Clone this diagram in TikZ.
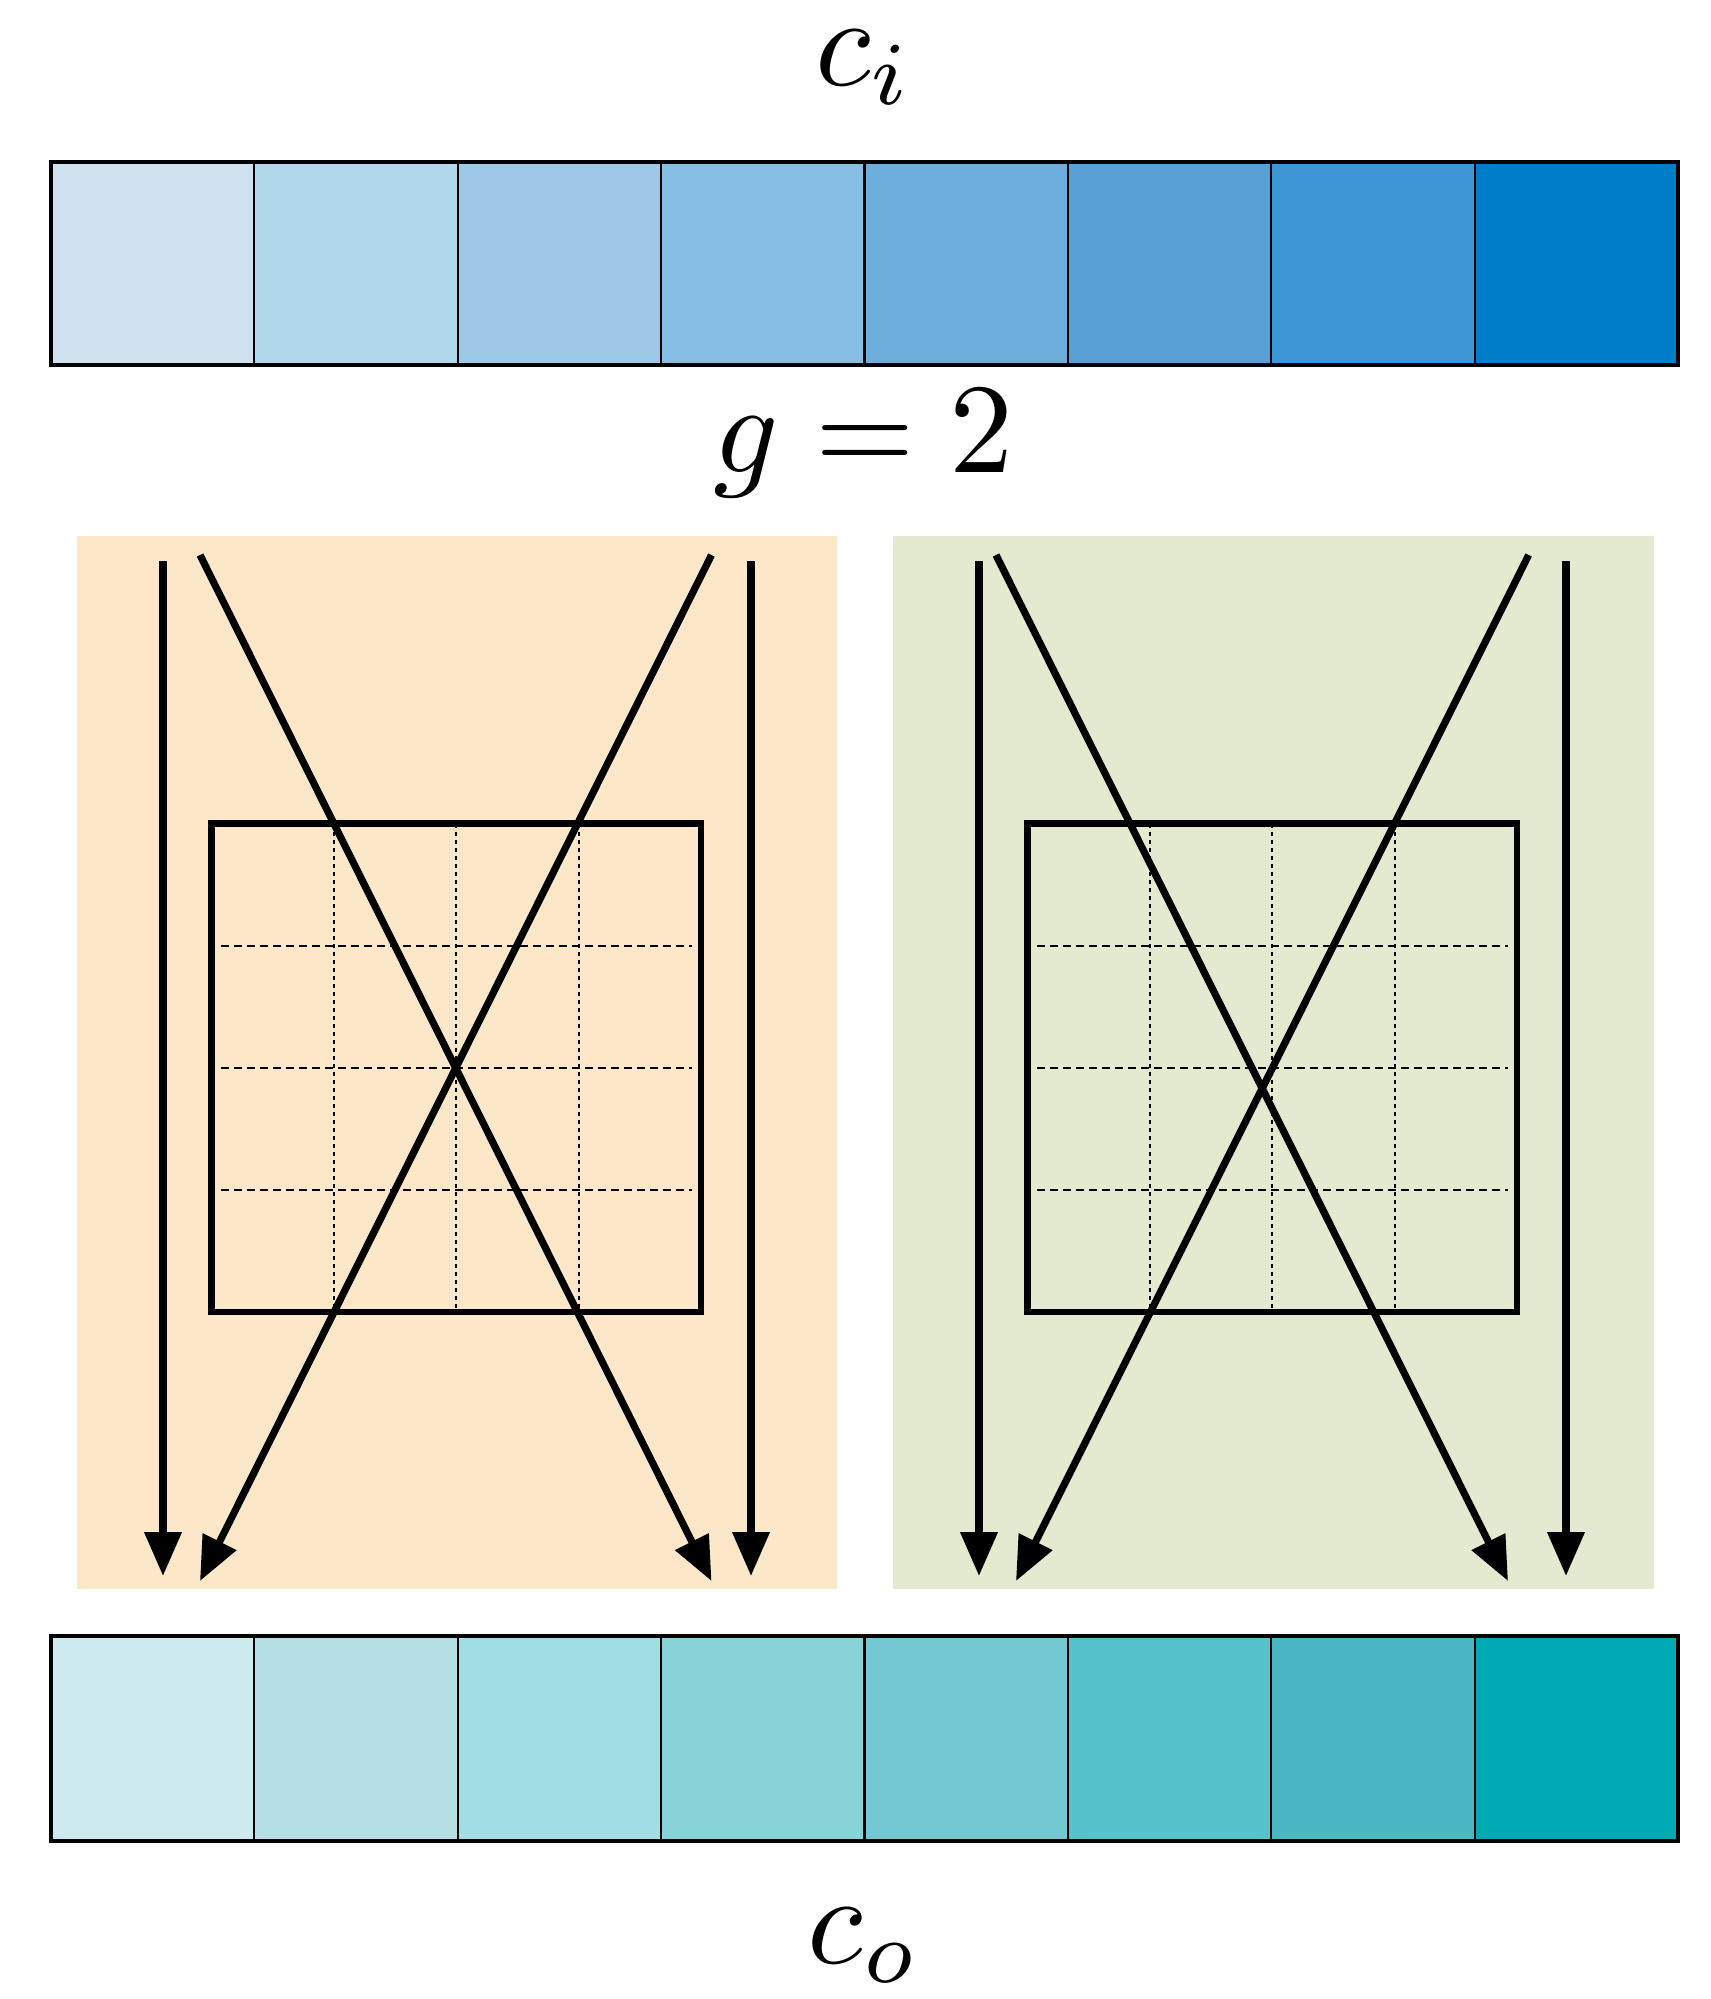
\documentclass[tikz,border=0pt]{standalone}
\usepackage{graphicx}
\usetikzlibrary{arrows.meta}
\definecolor{ta}{HTML}{CFE2F0}
\definecolor{tb}{HTML}{B2D8EC}
\definecolor{tc}{HTML}{9DC8E8}
\definecolor{td}{HTML}{87BEE4}
\definecolor{te}{HTML}{6EAEDD}
\definecolor{tf}{HTML}{58A1D6}
\definecolor{tg}{HTML}{3D96D6}
\definecolor{th}{HTML}{007DC8}
\definecolor{ba}{HTML}{CDEAEF}
\definecolor{bb}{HTML}{B5DFE5}
\definecolor{bc}{HTML}{A0DEE3}
\definecolor{bd}{HTML}{87D3D7}
\definecolor{be}{HTML}{73C8D2}
\definecolor{bf}{HTML}{56C2CB}
\definecolor{bg}{HTML}{4AB8C4}
\definecolor{bh}{HTML}{00AAB5}
\definecolor{panelA}{HTML}{FCE8C8}
\definecolor{panelB}{HTML}{E4EACF}
\newcommand{\biglbl}[1]{\scalebox{6.4}{#1}}
\tikzset{
  flowarrow/.style={line width=3.6pt,-{Triangle[length=22pt,width=18pt]}},
  sqframe/.style={line width=3.4pt},
  hgrid/.style={line width=1.1pt,dash pattern=on 4pt off 2.5pt},
  vgrid/.style={line width=1.1pt,dash pattern=on 2pt off 2pt},
  celldiv/.style={line width=1.1pt},
  barframe/.style={line width=2pt},
  lbl/.style={inner sep=0pt,anchor=base}
}
\begin{document}
\begin{tikzpicture}[x=0.5pt,y=-0.5pt]
\useasboundingbox (0,0) rectangle (1711,1999);
% labels
\node[lbl] (ci) at (864,85) {\biglbl{$c_i$}};
\node[lbl] (g) at (864,472) {\biglbl{$g=2$}};
\node[lbl] (co) at (864,1963) {\biglbl{$c_o$}};
% top bar
\foreach \c [count=\i from 0] in {ta,tb,tc,td,te,tf,tg,th}{
  \fill[\c] ({51+\i*203.375},162) rectangle ({51+(\i+1)*203.375},365);
}
\foreach \i in {1,...,7}{\draw[celldiv] ({51+\i*203.375},162) -- ({51+\i*203.375},365);}
\draw[barframe] (51,162) rectangle (1678,365);
% bottom bar
\foreach \c [count=\i from 0] in {ba,bb,bc,bd,be,bf,bg,bh}{
  \fill[\c] ({51+\i*203.375},1636) rectangle ({51+(\i+1)*203.375},1841);
}
\foreach \i in {1,...,7}{\draw[celldiv] ({51+\i*203.375},1636) -- ({51+\i*203.375},1841);}
\draw[barframe] (51,1636) rectangle (1678,1841);
% panels
\fill[panelA] (76.5,535.5) rectangle (836.5,1589);
\fill[panelB] (892.5,535.5) rectangle (1653.5,1589);
% squares with grids
\foreach \ox in {0,816}{
  \begin{scope}[xshift=\ox*0.5pt]
    \foreach \k in {1,2,3}{
      \draw[vgrid] ({211.7+\k*122.3},823.6) -- ({211.7+\k*122.3},1312);
      \draw[hgrid] (221,{823.6+\k*122.1}) -- (692,{823.6+\k*122.1});
    }
    \draw[sqframe] (211.7,823.6) rectangle (701,1312);
  \end{scope}
}
% arrows left panel
\coordinate (a1s) at (163,561);   \coordinate (a1e) at (163,1576);
\coordinate (a2s) at (200,555);   \coordinate (a2e) at (711.5,1581);
\coordinate (a3s) at (711.5,555); \coordinate (a3e) at (200,1581);
\coordinate (a4s) at (751,561);   \coordinate (a4e) at (751,1576);
\draw[flowarrow] (a1s) -- (a1e);
\draw[flowarrow] (a2s) -- (a2e);
\draw[flowarrow] (a3s) -- (a3e);
\draw[flowarrow] (a4s) -- (a4e);
% arrows right panel
\coordinate (b1s) at (979,561);    \coordinate (b1e) at (979,1576);
\coordinate (b2s) at (996,555);    \coordinate (b2e) at (1508,1581);
\coordinate (b3s) at (1528.7,555); \coordinate (b3e) at (1016,1581);
\coordinate (b4s) at (1566,561);   \coordinate (b4e) at (1566,1576);
\draw[flowarrow] (b1s) -- (b1e);
\draw[flowarrow] (b2s) -- (b2e);
\draw[flowarrow] (b3s) -- (b3e);
\draw[flowarrow] (b4s) -- (b4e);
\end{tikzpicture}
\end{document}
